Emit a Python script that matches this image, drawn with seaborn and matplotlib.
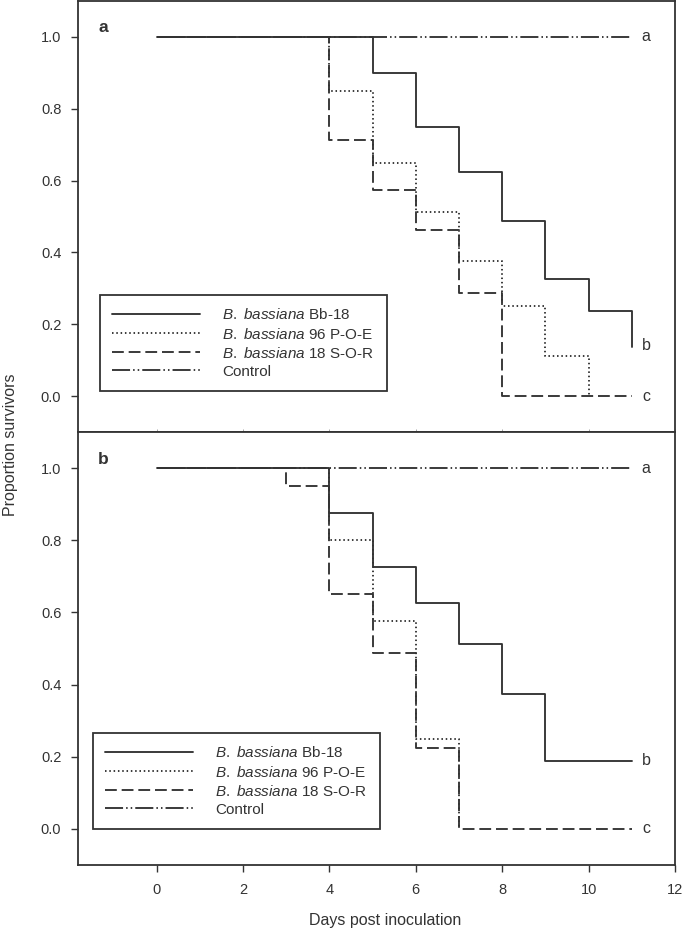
import numpy as np
import pandas as pd
import seaborn as sns
import matplotlib.pyplot as plt
from matplotlib.lines import Line2D

# Survival data (steps-post: value holds until next day)
days_a_bb18 = [0, 5, 6, 7, 8, 9, 10, 11]
surv_a_bb18 = [1.0, 0.9, 0.75, 0.625, 0.4875, 0.325, 0.2375, 0.1375]
days_a_poe = [0, 4, 5, 6, 7, 8, 9, 10]
surv_a_poe = [1.0, 0.85, 0.65, 0.5125, 0.375, 0.25, 0.1125, 0.0]
days_a_sor = [0, 4, 5, 6, 7, 8, 11]
surv_a_sor = [1.0, 0.7125, 0.575, 0.4625, 0.2875, 0.0, 0.0]

days_b_bb18 = [0, 4, 5, 6, 7, 8, 9, 11]
surv_b_bb18 = [1.0, 0.875, 0.725, 0.625, 0.5125, 0.375, 0.1875, 0.1875]
days_b_poe = [0, 4, 5, 6, 7]
surv_b_poe = [1.0, 0.8, 0.575, 0.25, 0.0]
days_b_sor = [0, 3, 4, 5, 6, 7, 11]
surv_b_sor = [1.0, 0.95, 0.65, 0.4875, 0.225, 0.0, 0.0]

days_control = [0, 11]
surv_control = [1.0, 1.0]

labels = [r"$\it{B.}$ $\it{bassiana}$ Bb-18", r"$\it{B.}$ $\it{bassiana}$ 96 P-O-E",
          r"$\it{B.}$ $\it{bassiana}$ 18 S-O-R", "Control"]
sig_a = ["a", "b", "c"]
sig_a_y = [1.0, 0.14, 0.0]
sig_b = ["a", "b", "c"]
sig_b_y = [1.0, 0.19, 0.0]

sns.set_style("ticks")
plt.rcParams['font.family'] = ['Liberation Sans', 'DejaVu Sans']
plt.rcParams['mathtext.fontset'] = 'custom'
plt.rcParams['mathtext.rm'] = 'Liberation Sans'
plt.rcParams['mathtext.it'] = 'Liberation Sans:italic'
plt.rcParams['lines.scale_dashes'] = False

ink = '#333333'
styles = {
    'bb18': '-',
    'poe': (0, (1.1, 2.0)),
    'sor': (0, (8.5, 3.5)),
    'ctrl': (0, (13, 2.2, 1.1, 2.2, 1.1, 2.2)),
}
lw = 1.35

fig = plt.figure(figsize=(6.85, 9.32), dpi=100)
W, H = 685, 932
ax_a = fig.add_axes([78 / W, 1 - 432 / H, 597 / W, 431 / H])
ax_b = fig.add_axes([78 / W, 1 - 865 / H, 597 / W, 433 / H])


def draw_panel(ax, series, sig, sig_y, letter, leg_anchor):
    for (d, s), key in zip(series, ['ctrl', 'sor', 'poe', 'bb18']):
        df = pd.DataFrame({'day': d, 'surv': s})
        sns.lineplot(data=df, x='day', y='surv', ax=ax, color=ink, lw=lw,
                     linestyle=styles[key], drawstyle='steps-post',
                     estimator=None, sort=False)
    ax.set_xlim(-1.82, 12)
    ax.set_ylim(-0.1, 1.1)
    ax.set_yticks(np.arange(0, 1.01, 0.2))
    ax.set_yticklabels([f"{v:.1f}" for v in np.arange(0, 1.01, 0.2)])
    ax.set_xlabel("")
    ax.set_ylabel("")
    for sp in ax.spines.values():
        sp.set_visible(True)
        sp.set_linewidth(1.3)
        sp.set_color(ink)
    ax.tick_params(axis='y', direction='out', length=5, width=1.0,
                   color=ink, labelcolor=ink, labelsize=10.5, pad=7)
    for t, y in zip(sig, sig_y):
        ax.text(11.33, y, t, ha='center', va='center', fontsize=11.5, color=ink)
    ax.text(-1.24, 1.025, letter, ha='center', va='center', fontsize=12.5,
            fontweight='bold', color=ink)
    handles = [Line2D([], [], color=ink, lw=lw, linestyle=styles[k])
               for k in ['bb18', 'poe', 'sor', 'ctrl']]
    leg = ax.legend(handles, labels, loc='lower left', bbox_to_anchor=leg_anchor,
                    borderaxespad=0, fontsize=11, handlelength=5.75,
                    handletextpad=1.45, labelspacing=0.27, borderpad=0.8,
                    fancybox=False, frameon=True, edgecolor=ink, framealpha=1)
    leg.get_frame().set_linewidth(1.3)
    for txt in leg.get_texts():
        txt.set_color(ink)


draw_panel(ax_a,
           [(days_control, surv_control), (days_a_sor, surv_a_sor),
            (days_a_poe, surv_a_poe), (days_a_bb18, surv_a_bb18)],
           sig_a, sig_a_y, "a", (0.037, 0.095))
draw_panel(ax_b,
           [(days_control, surv_control), (days_b_sor, surv_b_sor),
            (days_b_poe, surv_b_poe), (days_b_bb18, surv_b_bb18)],
           sig_b, sig_b_y, "b", (0.025, 0.083))

ax_a.set_xticks(np.arange(0, 13, 2))
ax_a.tick_params(axis='x', direction='in', length=2, width=0.6, color='#999999',
                 labelbottom=False)
ax_b.set_xticks(np.arange(0, 13, 2))
ax_b.tick_params(axis='x', direction='out', length=5, width=1.0, color=ink,
                 labelcolor=ink, labelsize=10.5, pad=8)

fig.text(385 / W, 1 - 921 / H, "Days post inoculation", ha='center', va='center',
         fontsize=11.5, color=ink)
fig.text(11 / W, 1 - 445 / H, "Proportion survivors", ha='center', va='center',
         rotation=90, fontsize=11.5, color=ink)

fig.savefig("out.png", dpi=100)
